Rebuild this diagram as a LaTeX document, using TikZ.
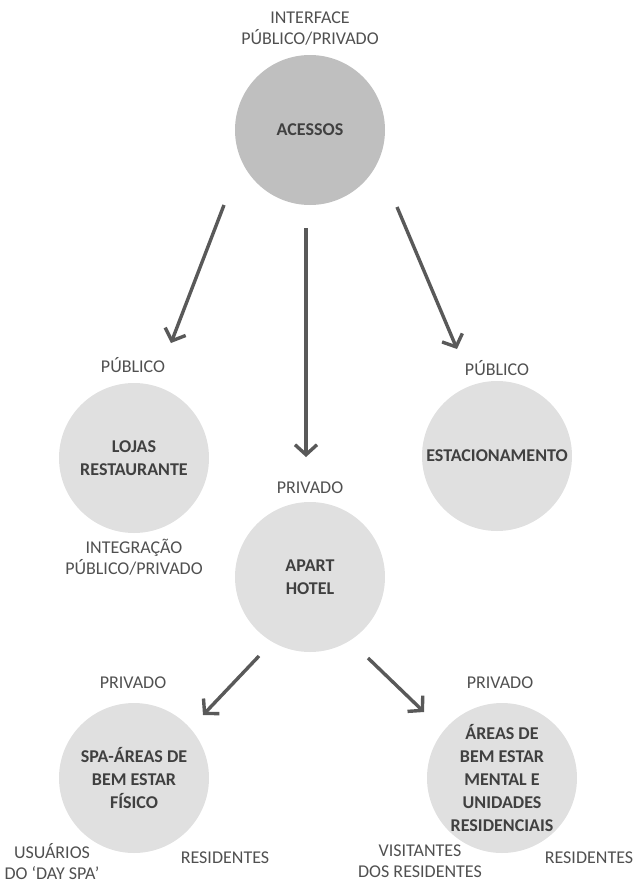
\documentclass[tikz,border=0pt]{standalone}
\usepackage{fontspec}
\setmainfont{Carlito}
\usetikzlibrary{arrows.meta}
\definecolor{darkc}{HTML}{BFBFBF}
\definecolor{lightc}{HTML}{E0E0E0}
\definecolor{txtc}{HTML}{404040}
\definecolor{lblc}{HTML}{505050}
\definecolor{arrc}{HTML}{595959}
\begin{document}
\begin{tikzpicture}[x=1pt,y=-1pt,
 circ/.style={circle,minimum size=150pt,inner sep=0pt,fill=lightc,text=txtc,font=\bfseries\fontsize{18}{23}\selectfont,align=center},
 lbl/.style={text=lblc,font=\fontsize{18}{21}\selectfont,align=center,inner sep=0pt},
 arr/.style={draw=arrc,line width=3.4pt,-{Straight Barb[length=10pt,width=22pt]}}]
\useasboundingbox (0,0) rectangle (641,884);
% circles
\node[circ,fill=darkc] (acc) at (310,130) {ACESSOS};
\node[circ] (loj) at (134,458) {LOJAS\\RESTAURANTE};
\node[circ] (est) at (497,456) {ESTACIONAMENTO};
\node[circ] (apa) at (310,577) {APART\\HOTEL};
\node[circ] (spa) at (134,778) {SPA-ÁREAS DE\\BEM ESTAR\\FÍSICO};
\node[circ] (are) at (502,778) {ÁREAS DE\\BEM ESTAR\\MENTAL E\\UNIDADES\\RESIDENCIAIS};
% labels
\node[lbl] (l1) at (310,29) {INTERFACE\\PÚBLICO/PRIVADO};
\node[lbl] (l2) at (133,365) {PÚBLICO};
\node[lbl] (l3) at (134,557) {INTEGRAÇÃO\\PÚBLICO/PRIVADO};
\node[lbl] (l4) at (497,368) {PÚBLICO};
\node[lbl] (l5) at (310,488) {PRIVADO};
\node[lbl] (l6) at (133,683) {PRIVADO};
\node[lbl] (l7) at (52,862) {USUÁRIOS\\DO ‘DAY SPA’};
\node[lbl] (l8) at (225,858) {RESIDENTES};
\node[lbl] (l9) at (500,683) {PRIVADO};
\node[lbl] (l10) at (420,861) {VISITANTES\\DOS RESIDENTES};
\node[lbl] (l11) at (589,858) {RESIDENTES};
% arrow ends
\coordinate (a1s) at (224,205);
\coordinate (a1e) at (171,343);
\coordinate (a2s) at (306,228);
\coordinate (a2e) at (306,457);
\coordinate (a3s) at (397,207);
\coordinate (a3e) at (457,349);
\coordinate (a4s) at (259,656);
\coordinate (a4e) at (203,715);
\coordinate (a5s) at (368,658);
\coordinate (a5e) at (424,712);
\draw[arr] (a1s) -- (a1e);
\draw[arr] (a2s) -- (a2e);
\draw[arr] (a3s) -- (a3e);
\draw[arr] (a4s) -- (a4e);
\draw[arr] (a5s) -- (a5e);
\end{tikzpicture}
\end{document}
